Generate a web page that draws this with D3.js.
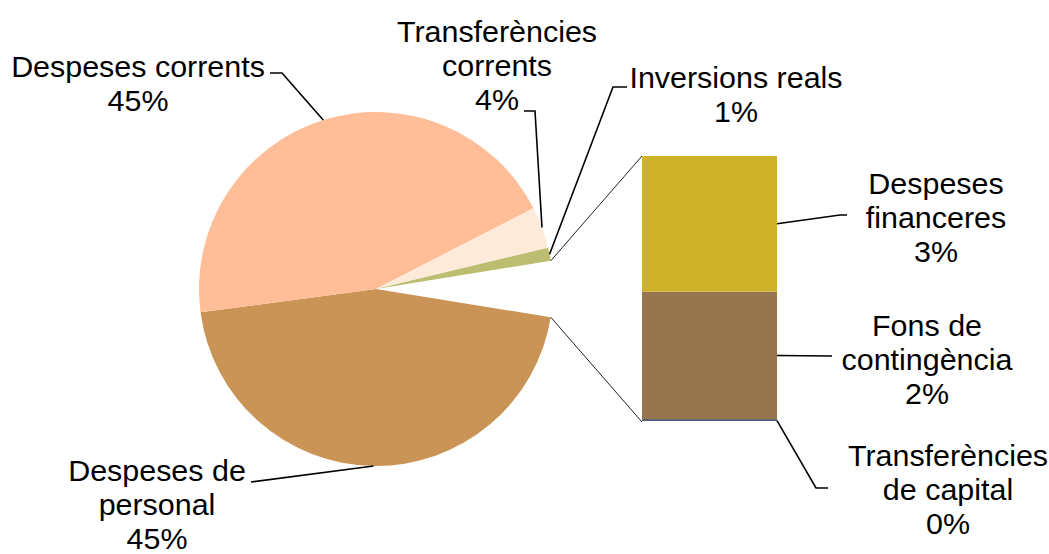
<!DOCTYPE html>
<html>
<head>
<meta charset="utf-8">
<script src="https://cdn.jsdelivr.net/npm/d3@7"></script>
<style>
  html, body { margin: 0; padding: 0; background: #fff; }
  #chart { width: 1049px; height: 554px; }
  text { font-family: "Liberation Sans", Arial, sans-serif; font-size: 29px; fill: #000; }
</style>
</head>
<body>
<div id="chart"></div>
<script>
// Data -----------
var pieNames   = ["Despeses de personal", "Despeses corrents", "Transferències corrents", "Inversions reals"];
var pieValues  = [45.4, 44.6, 3.8, 1.2];
var pieColors  = ["#c99456", "#ffbe98", "#fdead9", "#bdbd72"];

// the "other" slice, split out in the bar (bottom to top)
var barNames   = ["Transferències de capital", "Fons de contingència", "Despeses financeres"];
var barValues  = [0.05, 2.45, 2.6];
var barColors  = ["#4a5d7e", "#95754d", "#cdb22a"];

var width = 1049, height = 554;
var cx = 376, cy = 289, R = 177;
var barX = 642, barW = 135, barTop = 156, barBottom = 422;

var svg = d3.select("#chart").append("svg")
  .attr("width", width)
  .attr("height", height);

var otherTotal = d3.sum(barValues);
var total = d3.sum(pieValues) + otherTotal;
var pct = function(v) { return Math.round(v / total * 100) + "%"; };

// pie: "other" slice centred on 3 o'clock
var otherAngle = otherTotal / total * 2 * Math.PI;
var start = Math.PI / 2 + otherAngle / 2;

var pieData = pieValues.concat([otherTotal]);
var arcs = d3.pie().sort(null)
  .startAngle(start)
  .endAngle(start + 2 * Math.PI)(pieData);

var arc = d3.arc().innerRadius(0).outerRadius(R);

var g = svg.append("g").attr("transform", "translate(" + cx + "," + cy + ")");
g.selectAll("path")
  .data(arcs.slice(0, pieValues.length))
  .enter().append("path")
  .attr("d", arc)
  .style("fill", function(d, i) { return pieColors[i]; });

function onCircle(a, r) {
  return [cx + r * Math.sin(a), cy - r * Math.cos(a)];
}

// bar
var y = d3.scaleLinear().domain([0, otherTotal]).range([barBottom, barTop]);
var cum = d3.cumsum(barValues);
var barData = barValues.map(function(v, i) {
  return { name: barNames[i], v: v, y0: cum[i] - v, y1: cum[i], color: barColors[i] };
});

// connector lines
var oArc = arcs[arcs.length - 1];
var pTop = onCircle(oArc.startAngle, R), pBot = onCircle(oArc.endAngle, R);
svg.append("line")
  .attr("x1", pTop[0]).attr("y1", pTop[1])
  .attr("x2", barX).attr("y2", y(otherTotal))
  .attr("stroke", "#222").attr("stroke-width", 1);
svg.append("line")
  .attr("x1", pBot[0]).attr("y1", pBot[1])
  .attr("x2", barX).attr("y2", y(0))
  .attr("stroke", "#222").attr("stroke-width", 1);

svg.selectAll("rect.seg")
  .data(barData)
  .enter().append("rect")
  .attr("class", "seg")
  .attr("x", barX)
  .attr("width", barW)
  .attr("y", function(d) { return y(d.y1) - (d.v < 0.2 ? 1 : 0); })
  .attr("height", function(d) { return Math.max(y(d.y0) - y(d.y1), 1.5); })
  .style("fill", function(d) { return d.color; });

/****************************************
* Labels
*****************************************/
var LF = 34;

function midAnchor(i) {
  var a = arcs[i];
  return onCircle((a.startAngle + a.endAngle) / 2, R);
}
function barAnchor(i) {
  var d = barData[i];
  return [barX + barW, (y(d.y0) + y(d.y1)) / 2];
}

var labels = [
  { lines: ["Despeses de", "personal"], v: pieValues[0], x: 157, y: 481, anchor: midAnchor(0), path: [[251, 482]] },
  { lines: ["Despeses corrents"], v: pieValues[1], x: 138, y: 77, anchor: midAnchor(1), path: [[282, 73], [270, 73]] },
  { lines: ["Transferències", "corrents"], v: pieValues[2], x: 497, y: 42, anchor: midAnchor(2), path: [[535, 111], [524, 111]] },
  { lines: ["Inversions reals"], v: pieValues[3], x: 736, y: 88, anchor: midAnchor(3), path: [[613, 87], [627, 87]] },
  { lines: ["Transferències", "de capital"], v: barValues[0], x: 948, y: 466, anchor: barAnchor(0), path: [[816, 488], [828, 488]] },
  { lines: ["Fons de", "contingència"], v: barValues[1], x: 927, y: 336, anchor: barAnchor(1), path: [[832, 356]] },
  { lines: ["Despeses", "financeres"], v: barValues[2], x: 936, y: 194, anchor: barAnchor(2), path: [[840, 215], [847, 215]] }
];

var line = d3.line();
labels.forEach(function(l) {
  svg.append("path")
    .attr("d", line([l.anchor].concat(l.path)))
    .attr("fill", "none")
    .attr("stroke", "#000")
    .attr("stroke-width", 1.6);

  var t = svg.append("text")
    .attr("text-anchor", "middle")
    .attr("transform", "translate(" + l.x + "," + l.y + ") scale(1.05,1)");
  l.lines.concat([pct(l.v)]).forEach(function(s, k) {
    t.append("tspan").attr("x", 0).attr("y", k * LF).text(s);
  });
});
</script>
</body>
</html>
